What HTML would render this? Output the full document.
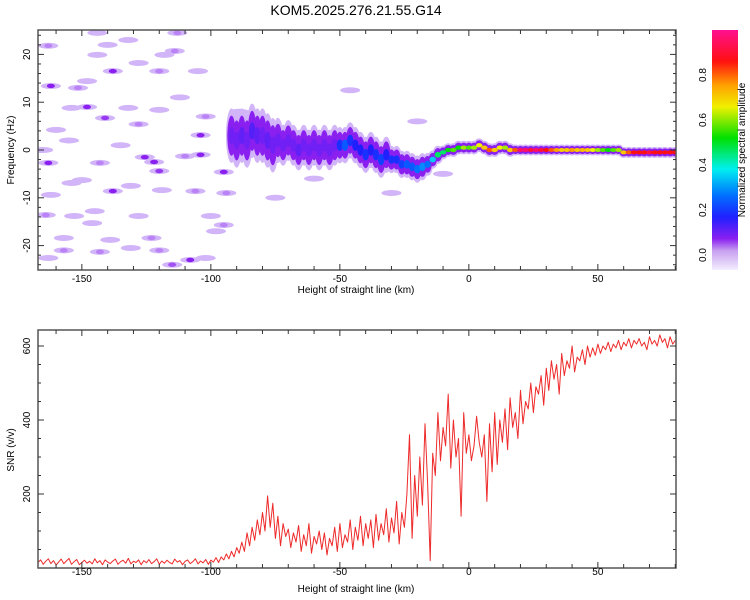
<!DOCTYPE html>
<html><head><meta charset="utf-8"><style>
body{margin:0;background:#fff}
svg{display:block}
text{font-family:"Liberation Sans",sans-serif;fill:#000}
</style></head><body>
<svg id="fig" width="750" height="600" viewBox="0 0 750 600">
<defs>
<linearGradient id="cbg" x1="0" y1="1" x2="0" y2="0">
<stop offset="0" stop-color="#f4eeff"/><stop offset="0.08" stop-color="#c8a0f0"/><stop offset="0.13" stop-color="#8a20f0"/>
<stop offset="0.22" stop-color="#2020ff"/><stop offset="0.31" stop-color="#0070ff"/><stop offset="0.42" stop-color="#00f0f0"/>
<stop offset="0.55" stop-color="#00e000"/><stop offset="0.68" stop-color="#f0f000"/><stop offset="0.77" stop-color="#ffa000"/>
<stop offset="0.87" stop-color="#ff1010"/><stop offset="1" stop-color="#ff1090"/>
</linearGradient>
<clipPath id="c1"><rect x="38" y="30" width="638" height="240"/></clipPath>
<clipPath id="c2"><rect x="38" y="330" width="638" height="238"/></clipPath>
</defs>
<text x="356" y="15" font-size="14" text-anchor="middle">KOM5.2025.276.21.55.G14</text>
<g id="spec" clip-path="url(#c1)"></g>
<g id="snr" clip-path="url(#c2)"></g>
<g id="axes"></g>
<rect x="712" y="30" width="26" height="240" fill="url(#cbg)"/>
<text transform="translate(745,150) rotate(-90)" font-size="10" text-anchor="middle">Normalized spectral amplitude</text>
<text transform="translate(14,150) rotate(-90)" font-size="10" text-anchor="middle">Frequency (Hz)</text>
<text x="356" y="293" font-size="10" text-anchor="middle">Height of straight line (km)</text>
<text transform="translate(14,450) rotate(-90)" font-size="10" text-anchor="middle">SNR (v/v)</text>
<text x="356" y="592" font-size="10" text-anchor="middle">Height of straight line (km)</text>
</svg>
<script>
// ---- data ----
const xTicks = [-150,-100,-50,0,50];
const fTicks = [-20,-10,0,10,20];
const snrTicks = [200,400,600];
const cbTicks = [0.0,0.2,0.4,0.6,0.8];
const snrStart = -167;
const snrValues = [
15,22,10,18,25,12,20,8,16,24, 12,19,26,10,17,23,9,15,21,13, 18,11,25,14,20,9,22,16,12,19,
24,10,17,21,13,26,11,18,15,22, 9,20,14,23,12,17,25,10,19,13, 21,15,11,24,16,20,9,18,22,12,
17,25,11,19,14,23,10,21,16,28, 15,30,22,38,25,45,30,55,40,70, 45,95,60,110,75,130,90,150,100,195,
110,175,80,140,60,120,85,105,55,95, 70,115,45,90,60,120,40,85,65,100, 50,95,35,80,60,110,45,120,55,90,
70,130,50,110,75,140,60,120,80,130, 55,145,75,120,90,160,70,135,95,180, 65,150,110,200,360,80,250,140,300,170,
390,230,20,310,250,420,290,380,330,470, 270,400,300,350,140,420,310,360,290,330, 410,340,300,360,180,390,260,420,280,400,
340,430,320,460,380,420,350,480,390,450, 430,500,420,490,470,520,440,540,480,560, 510,550,470,580,520,560,540,600,530,570,
560,590,550,600,570,595,575,605,580,600, 590,610,585,605,595,615,590,610,600,620, 595,615,605,620,600,610,590,625,605,615,
600,630,610,620,595,625,605,615];
const bandStart = -92;
const bandCenter = [3,2,3,2,4,3,3,2,1,2,1,2,1,0,1,0,1,0,1,0,1,1,1,2,1,0,-1,0,-1,-2,-1,-2,-2,-3,-3,-3.5,-4,-3.5,-3,-2,-1,-0.5,0,0,0.5,0.5,0.5,0.5,1,0.5,0,0,0.5,0.5,0,0,0,0,0,0,0,0,0,0,0,0,0,0,0,0,0,0,0,0,0,0,-0.5,-0.5,-0.5,-0.5,-0.5,-0.5,-0.5,-0.5,-0.5,-0.5,-0.5];
const bandSpread = [6,6,6,6,6,6,6,6,6,5,4.5,4.5,4.5,4.5,4.5,4.5,4.5,4.5,4.5,4.5,4.5,4,4,4,4,4,4,4,4,4,4,3,3,3,3,3,3,3,2.5,2,2,1.5,1.5,1.5,1.5,1.5,1.5,1.5,1.5,1.5,1.5,1.5,1.5,1.5,1.5,1.2,1.2,1.2,1.2,1.2,1.2,1.2,1.2,1.2,1.2,1.2,1.2,1.2,1.2,1.2,1.2,1.2,1.2,1.2,1.2,1.2,1.2,1.2,1.2,1.2,1.2,1.2,1.2,1.2,1.2,1.2,1.2];
const bandAmp = [0.12,0.12,0.13,0.12,0.14,0.13,0.12,0.13,0.12,0.12,0.12,0.12,0.12,0.13,0.12,0.12,0.12,0.12,0.12,0.12,0.12,0.2,0.25,0.2,0.18,0.18,0.2,0.18,0.2,0.22,0.18,0.2,0.2,0.22,0.25,0.25,0.28,0.3,0.28,0.35,0.45,0.45,0.5,0.55,0.5,0.6,0.55,0.6,0.65,0.7,0.8,0.7,0.65,0.6,0.7,0.8,0.95,0.95,0.9,0.95,0.9,0.85,0.8,0.75,0.7,0.7,0.75,0.7,0.72,0.7,0.65,0.6,0.55,0.5,0.55,0.6,0.7,0.8,0.85,0.85,0.85,0.9,0.85,0.85,0.85,0.85,0.85];
const blobKm = [-162,-148,-138,-120,-163,-143,-125.6,-122,-120,-138,-128,-141,-106,-108,-115,-157,-143,-123,-113,-163,-128,-114,-104,-95,-94,-95,-164,-153,-146,-148,-151.5,-160,-155,-110,-104,-102,-120,-132,-154,-144,-140,-132,-144,-118,-105,-150,-154,-131,-119,-162,-128,-145,-100,-131,-120,-139,-157,-163,-102,-46,-89,-60,-30,-75,-20,-10,-165,-135,-112,-98];
const blobF = [13.4,9,16.5,16.5,-2.7,-2.7,-1.5,-2.5,-4.4,-8.6,5.4,6.7,-8.6,-23,-24,-21,-21.3,-18.4,24.5,21.8,18.2,20.7,-1,-4.6,-9,-15.7,-13.6,-13.8,-15.3,14.4,13,4.2,2,-1.3,3.1,7,8.4,8.8,8.8,19.9,22,23,24.5,19.9,16.5,-6.3,-6.9,-7.5,-8.4,-9.4,-13.8,-12.8,-13.8,-20.5,-21,-18.8,-18.4,-22.6,-22.6,12.5,8,-6,-9,-10,6,-5,0,1,11,-17];
const blobA = [0.1,0.1,0.1,0.06,0.1,0.06,0.1,0.1,0.09,0.1,0.06,0.09,0.06,0.1,0.08,0.06,0.06,0.06,0.06,0.06,0.04,0.06,0.1,0.1,0.06,0.06,0.06,0.04,0.04,0.04,0.06,0.04,0.04,0.06,0.1,0.06,0.04,0.04,0.04,0.04,0.04,0.04,0.04,0.04,0.04,0.04,0.04,0.04,0.04,0.04,0.04,0.04,0.04,0.04,0.06,0.04,0.04,0.04,0.04,0.04,0.04,0.04,0.04,0.04,0.04,0.04,0.04,0.04,0.04,0.04];

// ---- scales ----
const X = v => 38 + (v + 167) * 2.58;
const YF = f => 150 - f * 4.78;
const YS = s => 568 - s * 0.37;
const YC = c => 255 - c * 225;
const NS = 'http://www.w3.org/2000/svg';
function mk(tag, attrs, parent){const e=document.createElementNS(NS,tag);for(const k in attrs)e.setAttribute(k,attrs[k]);parent.appendChild(e);return e;}
const stops=[[0,[244,238,255]],[0.04,[210,180,248]],[0.1,[138,32,240]],[0.18,[32,32,255]],[0.28,[0,112,255]],[0.38,[0,240,240]],[0.5,[0,224,0]],[0.65,[240,240,0]],[0.75,[255,160,0]],[0.85,[255,16,16]],[1,[255,16,144]]];
function cmap(v){v=Math.max(0,Math.min(1,v));for(let i=1;i<stops.length;i++){if(v<=stops[i][0]){const a=stops[i-1],b=stops[i],t=(v-a[0])/(b[0]-a[0]);return 'rgb('+a[1].map((c,j)=>Math.round(c+(b[1][j]-c)*t)).join(',')+')';}}return 'rgb(255,16,144)';}

// ---- spectrogram ----
const spec=document.getElementById('spec');
const bandLayers=[[0.95,0.04,5.5],[0.7,0.1,4.2],[0.3,1,3.2]];
bandLayers.forEach(([sf,af,rx])=>{
  bandCenter.forEach((c,i)=>{
    const km=bandStart+i*2, a=af===1?bandAmp[i]:Math.min(bandAmp[i],af);
    const h=bandSpread[i]*sf*4.78;
    const e=mk('ellipse',{cx:X(km),cy:YF(c),rx:rx,ry:Math.max(h,2),fill:cmap(a)},spec);
    
    
  });
});
blobKm.forEach((km,i)=>{
  const e=mk('ellipse',{cx:X(km),cy:YF(blobF[i]),rx:10,ry:3,fill:cmap(0.04)},spec);
  
  
  if(blobA[i]>0.05){
    const k=mk('ellipse',{cx:X(km),cy:YF(blobF[i]),rx:4,ry:2.2,fill:cmap(blobA[i])},spec);
    
    
  }
});

// ---- SNR line ----
const snr=document.getElementById('snr');
const pts=snrValues.map((v,i)=>X(snrStart+i).toFixed(1)+','+YS(v).toFixed(1)).join(' ');
const line=mk('polyline',{points:pts,fill:'none',stroke:'#ee2a2a','stroke-width':1,'stroke-linejoin':'round'},snr);



// ---- axes ----
const ax=document.getElementById('axes');
function frame(y0,y1,name){const r=mk('rect',{x:38,y:y0,width:638,height:y1-y0,fill:'none',stroke:'#555','stroke-width':1.5},ax);}
frame(30,270,'top-plot-frame');frame(330,568,'bottom-plot-frame');
function tk(x1,y1,x2,y2){mk('line',{x1,y1,x2,y2,stroke:'#333','stroke-width':1},ax);}
[[30,270,292],[330,568,585]].forEach(([t,b,ly])=>{
  for(let v=-160;v<=80;v+=10){const x=X(v),L=v%50===0?6:4;tk(x,b,x,b-L);tk(x,t,x,t+L);}
  xTicks.forEach(v=>{const e=mk('text',{x:X(v),y:ly-10,'font-size':10,'text-anchor':'middle'},ax);e.textContent=v;});
});
for(let f=-24;f<=24;f+=2){const y=YF(f),L=f%10===0?6:3;tk(38,y,38+L,y);tk(676,y,676-L,y);}
fTicks.forEach(f=>{const e=mk('text',{transform:`translate(30,${YF(f)}) rotate(-90)`,'font-size':10,'text-anchor':'middle'},ax);e.textContent=f;});
for(let s=50;s<=600;s+=50){const y=YS(s),L=s%200===0?6:3;tk(38,y,38+L,y);tk(676,y,676-L,y);}
snrTicks.forEach(s=>{const e=mk('text',{transform:`translate(30,${YS(s)}) rotate(-90)`,'font-size':10,'text-anchor':'middle'},ax);e.textContent=s;});
cbTicks.forEach(c=>{const y=Math.min(YC(c),264);tk(712,y,716,y);tk(738,y,734,y);const e=mk('text',{transform:`translate(706,${y}) rotate(-90)`,'font-size':10,'text-anchor':'middle'},ax);e.textContent=c.toFixed(1);});
</script>
</body></html>
